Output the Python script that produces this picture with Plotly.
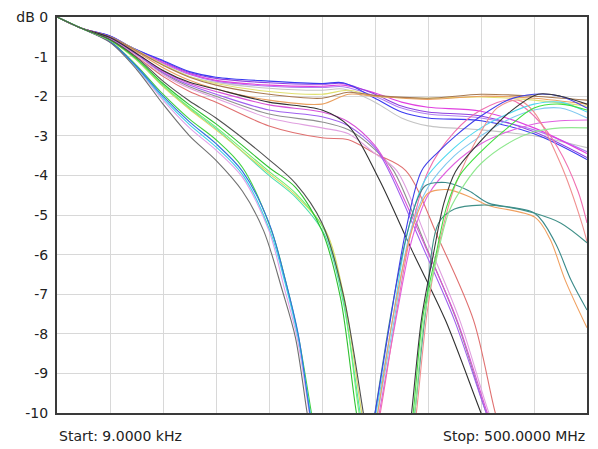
import plotly.graph_objects as go

# Shared start of all traces (x in grid divisions 0..10, y in dB)
START_X = [0.0, 0.45]
START_Y = [0.0, -0.28]

# ---- Upper group (flat, then decline at right) ----
A_X = [1.0, 1.43, 2.0, 2.5, 3.0, 4.0, 5.0, 5.4, 6.0, 6.5, 7.0, 8.0, 9.0, 10.0]
A1_Y = [-0.48, -0.78, -1.10, -1.38, -1.52, -1.62, -1.68, -1.66, -2.05, -2.40, -2.55, -2.62, -2.95, -3.60]
A2_Y = [-0.48, -0.78, -1.12, -1.40, -1.55, -1.66, -1.70, -1.68, -1.95, -2.25, -2.40, -2.50, -2.90, -3.55]
A3_Y = [-0.50, -0.80, -1.15, -1.43, -1.60, -1.72, -1.75, -1.72, -1.92, -2.15, -2.28, -2.38, -2.80, -3.45]
A4_Y = [-0.50, -0.82, -1.17, -1.45, -1.62, -1.75, -1.78, -1.76, -2.00, -2.30, -2.45, -2.55, -2.85, -3.40]
A5_Y = [-0.50, -0.83, -1.20, -1.50, -1.65, -1.80, -1.85, -1.82, -2.15, -2.55, -2.75, -2.85, -3.00, -3.30]

# ---- Flat group staying near -2 dB ----
Y_X = [1.0, 1.5, 2.0, 2.5, 3.0, 4.0, 5.0, 5.5, 6.0, 7.0, 8.0, 9.0, 10.0]
Y1_Y = [-0.50, -0.85, -1.22, -1.52, -1.72, -1.95, -2.05, -1.90, -1.98, -2.05, -1.95, -2.00, -2.10]
Y2_Y = [-0.52, -0.88, -1.28, -1.60, -1.82, -2.10, -2.20, -1.95, -2.00, -2.08, -2.00, -2.05, -2.20]
Y3_Y = [-0.50, -0.84, -1.20, -1.50, -1.68, -1.88, -1.95, -1.85, -2.00, -2.05, -2.02, -2.10, -2.25]

# ---- Group falling past -10 around division 8 ----
B1_X = [1.0, 1.5, 2.0, 2.5, 3.0, 4.0, 5.0, 5.5, 6.07, 6.7, 7.33, 8.0, 8.3]
B1_Y = [-0.52, -0.92, -1.35, -1.65, -1.82, -2.15, -2.35, -2.75, -4.08, -5.9, -7.66, -10.0, -11.0]
B2_X = [1.0, 1.5, 2.0, 2.5, 3.0, 4.0, 5.0, 5.5, 6.0, 6.3, 6.95, 7.55, 8.12, 8.4]
B2_Y = [-0.52, -0.92, -1.37, -1.68, -1.88, -2.22, -2.40, -2.65, -3.25, -3.9, -5.8, -7.66, -10.0, -11.0]
B3_X = [1.0, 1.5, 2.0, 2.5, 3.0, 4.0, 5.0, 5.5, 6.0, 6.26, 6.9, 7.5, 8.1, 8.4]
B3_Y = [-0.53, -0.94, -1.40, -1.72, -1.95, -2.35, -2.52, -2.75, -3.30, -3.88, -5.8, -7.66, -10.0, -11.0]
B4_X = [1.0, 1.5, 2.0, 2.5, 3.0, 4.0, 5.0, 5.5, 6.0, 6.41, 7.0, 7.6, 8.15, 8.45]
B4_Y = [-0.54, -0.96, -1.45, -1.80, -2.05, -2.55, -2.80, -2.95, -3.45, -3.88, -5.7, -7.66, -10.0, -11.0]
B5_X = [1.0, 1.5, 2.0, 2.5, 3.0, 4.0, 5.0, 5.5, 6.0, 6.58, 7.2, 7.86, 8.27, 8.5]
B5_Y = [-0.55, -1.00, -1.50, -1.88, -2.15, -2.75, -3.05, -3.10, -3.45, -3.88, -5.6, -7.66, -10.0, -11.0]
B6_X = [1.0, 1.5, 2.0, 2.5, 3.0, 4.0, 5.0, 5.5, 6.0, 6.35, 6.95, 7.55, 8.1, 8.4]
B6_Y = [-0.53, -0.95, -1.42, -1.76, -2.00, -2.45, -2.65, -2.85, -3.35, -3.88, -5.75, -7.7, -10.0, -11.0]

# ---- First notch group (hits -10 near division 4.8) ----
C1_X = [1.0, 1.5, 2.0, 2.5, 3.0, 3.5, 3.9, 4.25, 4.5, 4.72, 4.85]
C1_Y = [-0.64, -1.32, -2.20, -3.00, -3.62, -4.40, -5.4, -6.9, -8.1, -10.0, -11.0]
C2_X = [1.0, 1.5, 2.0, 2.5, 3.0, 3.5, 4.0, 4.3, 4.55, 4.77, 4.9]
C2_Y = [-0.62, -1.25, -2.00, -2.65, -3.20, -3.90, -5.2, -6.6, -8.0, -10.0, -11.0]
C3_X = [1.0, 1.5, 2.0, 2.5, 3.0, 3.5, 4.02, 4.3, 4.55, 4.78, 4.9]
C3_Y = [-0.63, -1.27, -2.05, -2.72, -3.28, -3.98, -5.4, -6.7, -8.1, -10.0, -11.0]
C4_X = [1.0, 1.5, 2.0, 2.5, 3.0, 3.5, 4.05, 4.32, 4.56, 4.8, 4.92]
C4_Y = [-0.61, -1.22, -1.95, -2.58, -3.10, -3.80, -5.4, -6.7, -8.1, -10.0, -11.0]
C5_X = [1.0, 1.5, 2.0, 2.5, 3.0, 3.5, 4.0, 4.28, 4.53, 4.76, 4.88]
C5_Y = [-0.64, -1.29, -2.10, -2.80, -3.36, -4.05, -5.4, -6.8, -8.1, -10.0, -11.0]

# ---- Second notch group (hits -10 near division 5.7) ----
D1_X = [1.0, 1.5, 2.0, 2.5, 3.0, 4.0, 4.5, 5.0, 5.35, 5.65, 5.8]
D1_Y = [-0.58, -1.05, -1.68, -2.22, -2.70, -3.80, -4.30, -5.4, -7.1, -10.0, -11.0]
D2_X = [1.0, 1.5, 2.0, 2.5, 3.0, 4.0, 4.5, 5.05, 5.4, 5.7, 5.85]
D2_Y = [-0.58, -1.07, -1.72, -2.28, -2.78, -3.90, -4.45, -5.4, -7.1, -10.0, -11.0]
D3_X = [1.0, 1.5, 2.0, 2.5, 3.0, 4.0, 4.5, 5.07, 5.42, 5.75, 5.9]
D3_Y = [-0.59, -1.09, -1.76, -2.33, -2.85, -3.95, -4.50, -5.4, -7.1, -10.0, -11.0]
D4_X = [1.0, 1.5, 2.0, 2.5, 3.0, 4.0, 4.5, 5.0, 5.4, 5.78, 5.9]
D4_Y = [-0.57, -1.02, -1.62, -2.12, -2.55, -3.60, -4.20, -5.2, -7.0, -10.0, -11.0]
D5_X = [1.0, 1.5, 2.0, 2.5, 3.0, 4.0, 4.5, 5.05, 5.4, 5.72, 5.85]
D5_Y = [-0.59, -1.08, -1.74, -2.31, -2.82, -4.00, -4.55, -5.5, -7.2, -10.0, -11.0]

# ---- Rising group from -10 near division 6 ----
F1_X = [5.85, 6.0, 6.26, 6.58, 6.88, 7.2, 7.52, 8.0, 8.5, 9.0, 9.5, 10.0]
F1_Y = [-11.0, -10.0, -7.9, -5.4, -3.88, -3.4, -3.0, -2.5, -2.1, -1.95, -2.0, -2.3]
F2_X = [5.9, 6.02, 6.3, 6.62, 6.95, 7.5, 8.0, 8.5, 9.0, 9.5, 10.0]
F2_Y = [-11.0, -10.0, -7.9, -5.4, -4.1, -3.3, -2.8, -2.45, -2.2, -2.15, -2.4]
F3_X = [5.92, 6.05, 6.33, 6.65, 7.0, 7.5, 8.0, 8.5, 9.0, 9.5, 10.0]
F3_Y = [-11.0, -10.0, -7.9, -5.5, -4.3, -3.5, -3.0, -2.6, -2.35, -2.3, -2.55]
F4_X = [5.88, 6.0, 6.3, 6.6, 6.8, 6.95, 7.33, 7.76, 8.14, 9.02, 9.4, 9.7, 10.0]
F4_Y = [-11.0, -10.0, -7.5, -5.5, -4.6, -4.26, -4.18, -4.38, -4.7, -4.96, -5.7, -6.65, -7.4]
F5_X = [5.92, 6.05, 6.35, 6.65, 6.85, 7.0, 7.38, 7.8, 8.14, 9.02, 9.3, 9.59, 10.0]
F5_Y = [-11.0, -10.0, -7.5, -5.6, -4.8, -4.45, -4.36, -4.55, -4.76, -5.06, -5.6, -6.65, -7.85]
F6_X = [5.95, 6.1, 6.4, 6.7, 7.0, 7.5, 8.0, 8.57, 9.0, 9.45, 9.83, 10.0]
F6_Y = [-11.0, -10.0, -7.5, -5.3, -3.9, -2.9, -2.35, -2.1, -2.5, -3.3, -4.4, -5.2]
F7_X = [5.95, 6.08, 6.4, 6.7, 7.0, 7.5, 8.0, 8.5, 9.0, 9.5, 10.0]
F7_Y = [-11.0, -10.0, -7.6, -5.6, -4.5, -3.7, -3.2, -2.9, -2.7, -2.62, -2.6]

# ---- Rising group from -10 near division 6.7 ----
G1_X = [6.6, 6.69, 6.88, 7.1, 7.3, 7.52, 7.95, 8.57, 9.08, 9.5, 10.0]
G1_Y = [-11.0, -10.0, -7.6, -6.0, -4.7, -3.9, -3.2, -2.37, -1.95, -2.0, -2.2]
G2_X = [6.62, 6.72, 6.9, 7.15, 7.35, 7.6, 8.0, 8.5, 9.0, 9.5, 10.0]
G2_Y = [-11.0, -10.0, -7.6, -6.0, -4.8, -4.0, -3.4, -2.8, -2.3, -2.2, -2.35]
G3_X = [6.65, 6.75, 6.93, 7.18, 7.4, 7.7, 8.0, 8.5, 9.0, 9.5, 10.0]
G3_Y = [-11.0, -10.0, -7.6, -6.0, -4.9, -4.2, -3.7, -3.2, -2.9, -2.8, -2.8]
G4_X = [6.65, 6.75, 6.95, 7.2, 7.5, 8.0, 8.5, 9.0, 9.5, 10.0]
G4_Y = [-11.0, -10.0, -7.5, -5.2, -4.85, -4.75, -4.8, -4.95, -5.2, -5.7]
G5_X = [6.68, 6.78, 6.98, 7.2, 7.5, 8.0, 8.3, 8.7, 9.0, 9.5, 9.9, 10.1]
G5_Y = [-11.0, -10.0, -7.5, -5.8, -4.3, -2.9, -2.3, -2.1, -2.4, -3.7, -5.2, -6.2]

# Tick labels / footer text
Y_TICKS = [0, -1, -2, -3, -4, -5, -6, -7, -8, -9, -10]
Y_TICK_TEXT = ["dB 0", "-1", "-2", "-3", "-4", "-5", "-6", "-7", "-8", "-9", "-10"]
START_TEXT = "Start: 9.0000 kHz"
STOP_TEXT = "Stop: 500.0000 MHz"

series = [
    (A_X, A5_Y, "#c4c4c4"), (A_X, A4_Y, "#b080f0"), (A_X, A3_Y, "#e040e0"),
    (A_X, A2_Y, "#9040e0"), (A_X, A1_Y, "#3a3af0"),
    (Y_X, Y3_Y, "#e0e070"), (Y_X, Y2_Y, "#eaa060"), (Y_X, Y1_Y, "#a87850"),
    (B6_X, B6_Y, "#909090"), (B5_X, B5_Y, "#e07070"), (B4_X, B4_Y, "#e0a0e0"),
    (B3_X, B3_Y, "#a060f0"), (B2_X, B2_Y, "#d850d8"), (B1_X, B1_Y, "#303030"),
    (C5_X, C5_Y, "#e0a0e8"), (C4_X, C4_Y, "#40d040"), (C3_X, C3_Y, "#40d0e8"),
    (C2_X, C2_Y, "#3070e0"), (C1_X, C1_Y, "#707070"),
    (D5_X, D5_Y, "#50e0b0"), (D3_X, D3_Y, "#d8d860"), (D2_X, D2_Y, "#70f070"),
    (D1_X, D1_Y, "#30c030"), (D4_X, D4_Y, "#505050"),
    (F7_X, F7_Y, "#e060e0"), (F6_X, F6_Y, "#f070b0"), (F3_X, F3_Y, "#80c8f0"),
    (F2_X, F2_Y, "#50d8f0"), (F5_X, F5_Y, "#f0a060"), (F4_X, F4_Y, "#3a8a8a"),
    (F1_X, F1_Y, "#4040e8"),
    (G5_X, G5_Y, "#f09090"), (G4_X, G4_Y, "#409088"), (G3_X, G3_Y, "#90e890"),
    (G2_X, G2_Y, "#40e040"), (G1_X, G1_Y, "#383838"),
]

fig = go.Figure()
for xs, ys, col in series:
    if ys[0] > -1.0:
        px_ = START_X + list(xs)
        py_ = START_Y + list(ys)
    else:
        px_, py_ = list(xs), list(ys)
    fig.add_trace(go.Scatter(
        x=px_, y=py_, mode="lines", hoverinfo="skip", showlegend=False,
        line=dict(color=col, width=1.1, shape="spline", smoothing=0.9),
    ))

FONT = "DejaVu Sans, Arial, sans-serif"
fig.update_layout(
    width=598, height=449,
    margin=dict(l=57, r=9, t=16, b=36),
    paper_bgcolor="white", plot_bgcolor="white",
    font=dict(family=FONT, size=14, color="#222222"),
    xaxis=dict(range=[0, 10], dtick=1, tick0=0, showticklabels=False,
               showgrid=True, gridcolor="#d8d8d8", gridwidth=1, zeroline=False,
               showline=True, linecolor="#3a3a3a", linewidth=2, mirror=True,
               ticks=""),
    yaxis=dict(range=[-10, 0], tickvals=Y_TICKS, ticktext=Y_TICK_TEXT,
               showgrid=True, gridcolor="#d8d8d8", gridwidth=1, zeroline=False,
               showline=True, linecolor="#3a3a3a", linewidth=2, mirror=True,
               ticks="", ticklabelstandoff=4,
               tickfont=dict(family=FONT, size=14, color="#222222")),
    annotations=[
        dict(text=START_TEXT, xref="paper", yref="paper", x=0.0, y=-0.058,
             xanchor="left", yanchor="middle", showarrow=False,
             font=dict(family=FONT, size=14, color="#222222")),
        dict(text=STOP_TEXT, xref="paper", yref="paper", x=1.0, y=-0.058,
             xanchor="right", yanchor="middle", showarrow=False,
             font=dict(family=FONT, size=14, color="#222222")),
    ],
)

fig.write_html(
    "out.html",
    config={"displayModeBar": False},
    post_script="document.body.style.margin='0';document.body.style.overflow='hidden';",
)
